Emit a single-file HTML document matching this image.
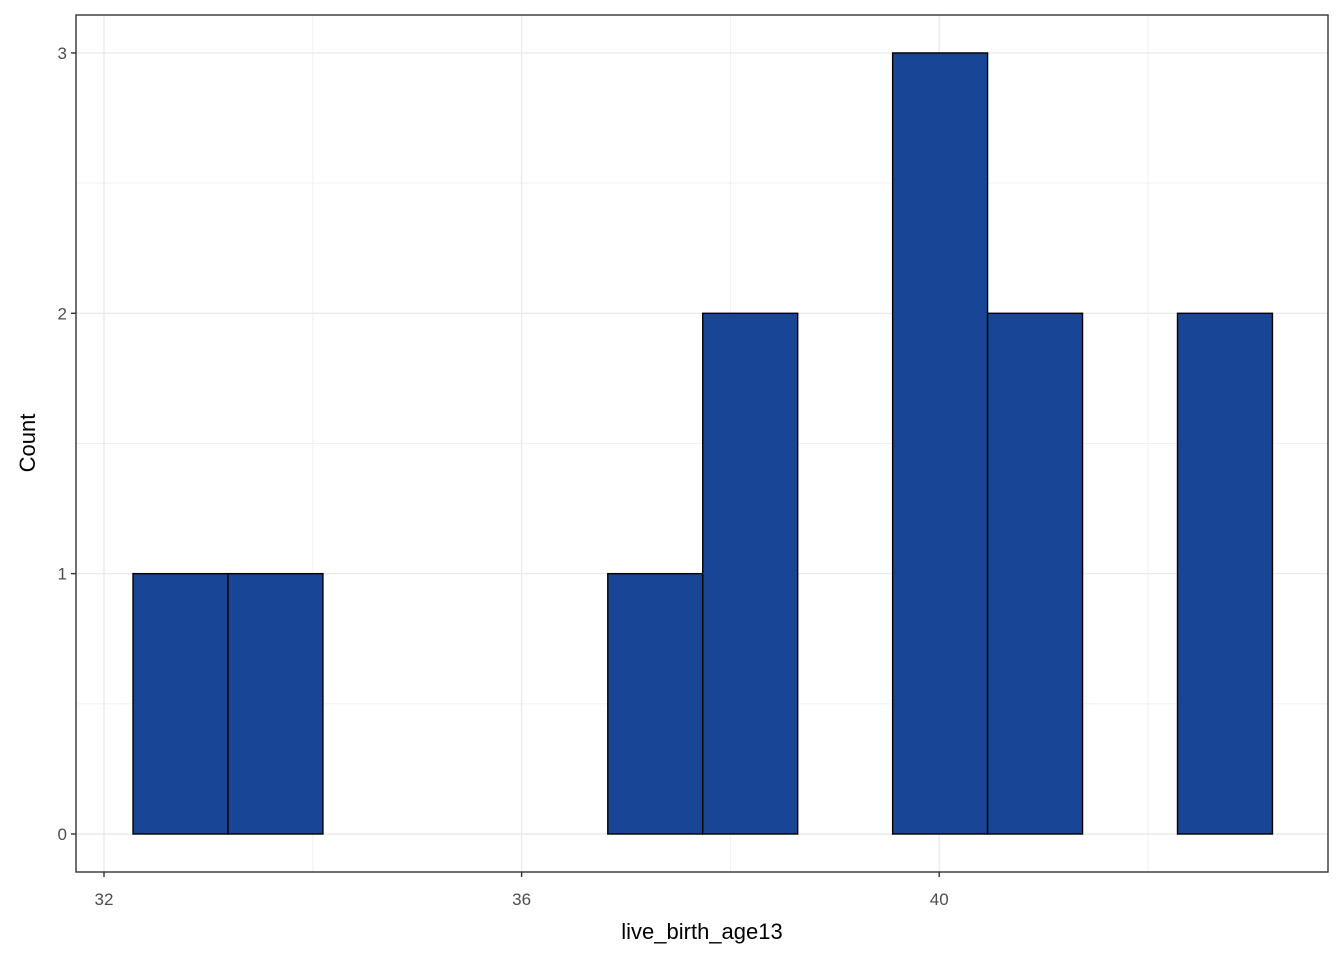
<!DOCTYPE html>
<html><head><meta charset="utf-8"><style>
html,body{margin:0;padding:0;background:#fff;}
svg{display:block;font-family:"Liberation Sans",Arial,sans-serif;}
</style></head><body>
<svg id="chart" width="1344" height="960"></svg>
<script>
const binStart = 32.278;
const binWidth = 0.9095;
const counts = [1,1,0,0,0,1,2,0,3,2,0,2];
const xTicks = [32,36,40];
const xMinor = [34,38,42];
const yTicks = [0,1,2,3];
const yMinor = [0.5,1.5,2.5];
const xLabel = "live_birth_age13";
const yLabel = "Count";

const NS="http://www.w3.org/2000/svg";
const svg=document.getElementById('chart');
const L=76,R=1328,T=15,B=872;
const xs=v=>104+(v-32)*104.4;
const ys=v=>834-v*260.35;
function mk(tag,attrs,parent){const e=document.createElementNS(NS,tag);for(const k in attrs)e.setAttribute(k,attrs[k]);(parent||svg).appendChild(e);return e;}

const grid=mk('g',{});


xMinor.forEach(v=>mk('line',{x1:xs(v),x2:xs(v),y1:T,y2:B,stroke:'#f0f0f0','stroke-width':1},grid));
yMinor.forEach(v=>mk('line',{x1:L,x2:R,y1:ys(v),y2:ys(v),stroke:'#f0f0f0','stroke-width':1},grid));
xTicks.forEach(v=>mk('line',{x1:xs(v),x2:xs(v),y1:T,y2:B,stroke:'#ebebeb','stroke-width':1.4},grid));
yTicks.forEach(v=>mk('line',{x1:L,x2:R,y1:ys(v),y2:ys(v),stroke:'#ebebeb','stroke-width':1.4},grid));

const bars=mk('g',{});


counts.forEach((c,i)=>{
  const x0=xs(binStart+i*binWidth),x1=xs(binStart+(i+1)*binWidth);
  const r=mk('rect',{x:x0,y:ys(c),width:x1-x0,height:ys(0)-ys(c),fill:'#184596',stroke:'#000','stroke-width':1.4},bars);
  
  
});

const frame=mk('rect',{x:L,y:T,width:R-L,height:B-T,fill:'none',stroke:'#333','stroke-width':1.4});



xTicks.forEach(v=>{
  mk('line',{x1:xs(v),x2:xs(v),y1:B,y2:B+5,stroke:'#333','stroke-width':1.4});
  const t=mk('text',{x:xs(v),y:905,'text-anchor':'middle','font-size':17,fill:'#4d4d4d'});
  t.textContent=v;
  
  
});
yTicks.forEach(v=>{
  mk('line',{x1:L-5,x2:L,y1:ys(v),y2:ys(v),stroke:'#333','stroke-width':1.4});
  const t=mk('text',{x:L-9,y:ys(v)+6,'text-anchor':'end','font-size':17,fill:'#4d4d4d'});
  t.textContent=v;
  
  
});
const xt=mk('text',{x:702,y:939,'text-anchor':'middle','font-size':22,fill:'#000'});
xt.textContent=xLabel;


const yt=mk('text',{x:0,y:0,'text-anchor':'middle','font-size':22,fill:'#000',transform:'translate(35,443) rotate(-90)'});
yt.textContent=yLabel;


</script>
</body></html>
